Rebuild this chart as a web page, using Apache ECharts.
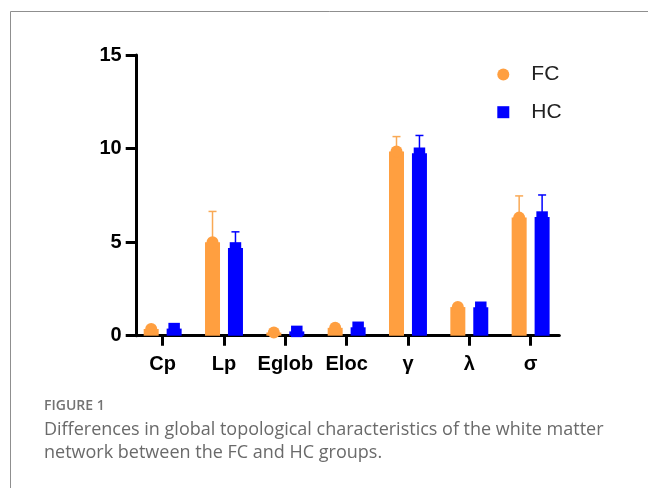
<!DOCTYPE html>
<html>
<head>
<meta charset="utf-8">
<script src="https://cdn.jsdelivr.net/npm/echarts@6/dist/echarts.min.js"></script>
<style>
html,body{margin:0;padding:0;background:#fff;}
#chart{width:648px;height:488px;}
</style>
</head>
<body>
<div id="chart"></div>
<script>
// ---- data ----
const categories = ['Cp', 'Lp', 'Eglob', 'Eloc', 'γ', 'λ', 'σ'];
const fcMean = [0.36, 5.00, 0.17, 0.42, 9.84, 1.53, 6.31];
const fcSD   = [0.03, 1.64, 0.02, 0.03, 0.80, 0.08, 1.16];
const hcMean = [0.38, 4.69, 0.23, 0.45, 9.75, 1.52, 6.34];
const hcSD   = [0.03, 0.86, 0.02, 0.03, 0.95, 0.08, 1.18];
const yTicks = [0, 5, 10, 15];

const FC_COLOR = '#ff9f40';
const FC_ERR = '#f9a955';
const HC_COLOR = '#0000ff';
const BAR_W = 15;
const BAR_GAP = '53%';
const HALF_OFF = (BAR_W + BAR_W * 0.53) / 2; // distance of each bar centre from category centre

const chart = echarts.init(document.getElementById('chart'), null, {renderer: 'canvas'});

function errorSeries(name, means, sds, dx, color) {
  return {
    name: name,
    type: 'custom',
    xAxisIndex: 0, yAxisIndex: 0,
    z: 1,
    data: means.map((m, i) => [i, m, m + sds[i]]),
    renderItem: function (params, api) {
      const idx = api.value(0);
      const x = api.coord([idx, 0])[0] + dx;
      const yb = api.coord([idx, api.value(1)])[1];
      const yt = api.coord([idx, api.value(2)])[1];
      const st = {stroke: color, lineWidth: 1.5};
      return {type: 'group', children: [
        {type: 'line', shape: {x1: x, y1: yb, x2: x, y2: yt}, style: st},
        {type: 'line', shape: {x1: x - 4, y1: yt, x2: x + 4, y2: yt}, style: st}
      ]};
    }
  };
}

const option = {
  animation: false,
  backgroundColor: '#ffffff',
  grid: [
    {left: 132, width: 429.3, top: 55, height: 280.7},
    {left: 136.7, width: 422.6, top: 55, height: 280.7}
  ],
  xAxis: [
    {
      type: 'category', gridIndex: 0, data: categories,
      axisLine: {show: false},
      axisTick: {show: true, alignWithLabel: true, interval: 0, length: 10, lineStyle: {width: 3, color: '#000'}},
      axisLabel: {interval: 0, fontSize: 20, fontWeight: 'bold', color: '#000', margin: 19, fontFamily: 'Liberation Sans, Arial, sans-serif'},
      splitLine: {show: false}
    },
    {
      type: 'value', gridIndex: 1, min: 0, max: 1,
      axisLine: {show: true, lineStyle: {width: 3, color: '#000'}},
      axisTick: {show: false}, axisLabel: {show: false}, splitLine: {show: false}
    }
  ],
  yAxis: [
    {type: 'value', gridIndex: 0, min: 0, max: 15, show: false},
    {
      type: 'value', gridIndex: 1, min: yTicks[0], max: yTicks[yTicks.length - 1], interval: 5,
      axisLine: {show: true, lineStyle: {width: 3, color: '#000'}},
      axisTick: {show: true, length: 11, lineStyle: {width: 3, color: '#000'}},
      axisLabel: {fontSize: 20, fontWeight: 'bold', color: '#000', margin: 15, fontFamily: 'Liberation Sans, Arial, sans-serif'},
      splitLine: {show: false}
    }
  ],
  legend: {
    orient: 'vertical',
    left: 492.3, top: 59,
    itemWidth: 12, itemHeight: 12, itemGap: 16.7,
    textStyle: {fontSize: 21, color: '#222', fontFamily: 'Liberation Sans, Arial, sans-serif', padding: [0, 0, 0, 17]},
    data: [
      {name: 'FC', icon: 'circle', itemStyle: {color: FC_COLOR}},
      {name: 'HC', icon: 'rect', itemStyle: {color: HC_COLOR}}
    ]
  },
  series: [
    {name: 'FC', type: 'bar', xAxisIndex: 0, yAxisIndex: 0, data: fcMean, barWidth: BAR_W, barGap: BAR_GAP, itemStyle: {color: FC_COLOR}, z: 2},
    {name: 'HC', type: 'bar', xAxisIndex: 0, yAxisIndex: 0, data: hcMean, barWidth: BAR_W, barGap: BAR_GAP, itemStyle: {color: HC_COLOR}, z: 2},
    {name: 'FC', type: 'pictorialBar', xAxisIndex: 0, yAxisIndex: 0, data: fcMean, barWidth: BAR_W, barGap: BAR_GAP,
      symbol: 'circle', symbolSize: [12, 12], symbolPosition: 'end', symbolOffset: [0, '-50%'], symbolClip: false,
      itemStyle: {color: FC_COLOR}, z: 3},
    {name: 'HC', type: 'pictorialBar', xAxisIndex: 0, yAxisIndex: 0, data: hcMean, barWidth: BAR_W, barGap: BAR_GAP,
      symbol: 'rect', symbolSize: [11.5, 11.5], symbolPosition: 'end', symbolOffset: [0, '-50%'], symbolClip: false,
      itemStyle: {color: HC_COLOR}, z: 3},
    errorSeries('FC', fcMean, fcSD, -HALF_OFF, FC_ERR),
    errorSeries('HC', hcMean, hcSD, HALF_OFF, HC_COLOR)
  ],
  graphic: [
    {type: 'rect', silent: true, shape: {x: 10.5, y: 11.5, width: 800, height: 600},
      style: {fill: 'none', stroke: '#8f8f8f', lineWidth: 1}},
    {type: 'text', left: 44, top: 399, silent: true,
      style: {text: 'FIGURE 1', fontSize: 14, fontWeight: 600, fill: '#737373', fontFamily: 'Open Sans, sans-serif'}},
    {type: 'text', left: 44, top: 421, silent: true,
      style: {text: 'Differences in global topological characteristics of the white matter', fontSize: 18, fill: '#6a6a6a', fontFamily: 'Open Sans, sans-serif'}},
    {type: 'text', left: 44, top: 444, silent: true,
      style: {text: 'network between the FC and HC groups.', fontSize: 18, fill: '#6a6a6a', fontFamily: 'Open Sans, sans-serif'}}
  ]
};
chart.setOption(option);
</script>
</body>
</html>
